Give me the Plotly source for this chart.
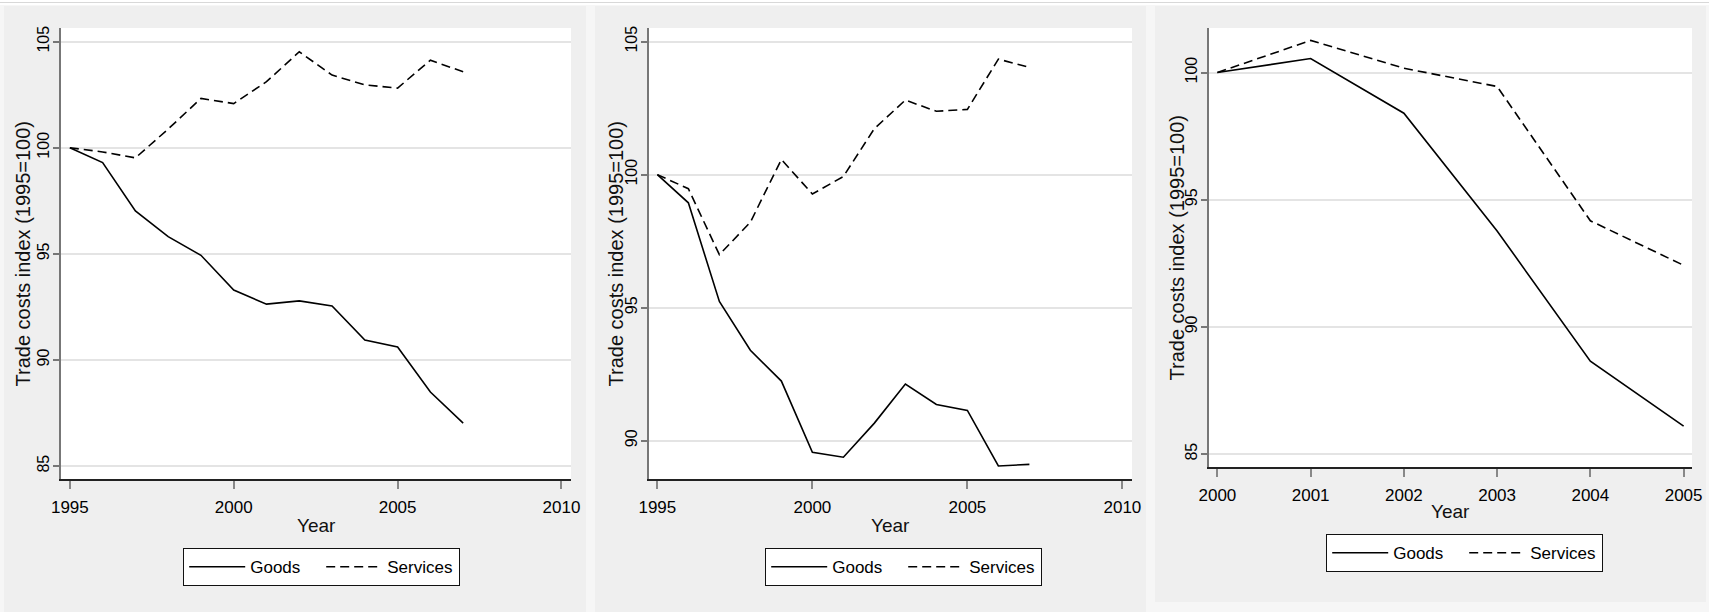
import plotly.graph_objects as go

W, H = 1709, 612

# ---- data -------------------------------------------------------------
years_long = [1995, 1996, 1997, 1998, 1999, 2000, 2001, 2002, 2003, 2004, 2005, 2006, 2007]
goods_a = [100, 99.30, 97.02, 95.81, 94.93, 93.29, 92.63, 92.78, 92.54, 90.94, 90.61, 88.49, 87.02]
services_a = [100, 99.80, 99.52, 100.88, 102.32, 102.08, 103.11, 104.52, 103.42, 102.96, 102.81, 104.12, 103.58]

goods_b = [100, 98.94, 95.23, 93.40, 92.24, 89.56, 89.38, 90.66, 92.13, 91.36, 91.14, 89.05, 89.11]
services_b = [100, 99.47, 96.99, 98.21, 100.57, 99.27, 99.93, 101.73, 102.80, 102.38, 102.45, 104.34, 104.03]

years_short = [2000, 2001, 2002, 2003, 2004, 2005]
goods_c = [100, 100.55, 98.40, 93.77, 88.65, 86.10]
services_c = [100, 101.26, 100.17, 99.45, 94.17, 92.42]

xticks_long = [1995, 2000, 2005, 2010]
xticks_short = [2000, 2001, 2002, 2003, 2004, 2005]
yticks_a = [85, 90, 95, 100, 105]
yticks_b = [90, 95, 100, 105]
yticks_c = [85, 90, 95, 100]

series_names = ["Goods", "Services"]
y_title = "Trade costs index (1995=100)"
x_title = "Year"

SANS = "Liberation Sans, Arial, sans-serif"
PANEL = "#efefef"


def px_x(p):
    return p / W


def px_y(p):
    return 1 - p / H


panels = [
    dict(box=(61, 571, 28, 479), xr=[1994.73, 2010.29], yr=[84.39, 105.64],
         xt=xticks_long, yt=yticks_a, x=years_long, g=goods_a, s=services_a,
         bg=(4, 586, 6, 612), ytx=22, xty=525, leg=(183, 548)),
    dict(box=(649, 1132, 28, 479), xr=[1994.73, 2010.31], yr=[88.56, 105.51],
         xt=xticks_long, yt=yticks_b, x=years_long, g=goods_b, s=services_b,
         bg=(595, 1146, 6, 612), ytx=615, xty=525, leg=(765, 548)),
    dict(box=(1209, 1692, 28, 467), xr=[1999.91, 2005.09], yr=[84.49, 101.75],
         xt=xticks_short, yt=yticks_c, x=years_short, g=goods_c, s=services_c,
         bg=(1155, 1706, 6, 602), ytx=1176, xty=511, leg=(1326, 534)),
]

fig = go.Figure()
layout = dict(
    width=W, height=H,
    margin=dict(l=0, r=0, t=0, b=0, autoexpand=False),
    paper_bgcolor="#f6f6f6",
    plot_bgcolor="white",
    showlegend=True,
    shapes=[],
    annotations=[],
)

for i, p in enumerate(panels, start=1):
    sfx = "" if i == 1 else str(i)
    xa, ya = "x" + sfx, "y" + sfx
    leg = "legend" + sfx
    fig.add_trace(go.Scatter(x=p["x"], y=p["g"], mode="lines", name=series_names[0],
                             line=dict(color="black", width=1.6),
                             xaxis=xa, yaxis=ya, legend=leg))
    fig.add_trace(go.Scatter(x=p["x"], y=p["s"], mode="lines", name=series_names[1],
                             line=dict(color="black", width=1.6, dash="9px,5px"),
                             xaxis=xa, yaxis=ya, legend=leg))

    x0, x1, y0, y1 = p["box"]
    layout["xaxis" + sfx] = dict(
        domain=[px_x(x0), px_x(x1)], range=p["xr"], anchor=ya, automargin=False,
        tickmode="array", tickvals=p["xt"], ticktext=[str(v) for v in p["xt"]],
        showgrid=False, zeroline=False,
        showline=True, linecolor="#222", linewidth=1.6,
        ticks="outside", ticklen=8, tickwidth=1.5, tickcolor="#888",
        tickfont=dict(family=SANS, size=17, color="black"),
        ticklabelstandoff=4,
    )
    layout["yaxis" + sfx] = dict(
        domain=[px_y(y1), px_y(y0)], range=p["yr"], anchor=xa, automargin=False,
        tickmode="array", tickvals=p["yt"], ticktext=[str(v) for v in p["yt"]],
        tickangle=-90,
        showgrid=True, gridcolor="#e4e4e4", gridwidth=2, zeroline=False,
        showline=True, linecolor="#777", linewidth=1.6,
        ticks="outside", ticklen=6, tickwidth=1.5, tickcolor="#777",
        tickfont=dict(family=SANS, size=16, color="black"),
        ticklabelstandoff=-2,
    )

    # grey panel backdrop and white plotting box
    bx0, bx1, by0, by1 = p["bg"]
    layout["shapes"].append(dict(type="rect", xref="paper", yref="paper",
                                 x0=px_x(bx0), x1=px_x(bx1), y0=px_y(by1), y1=px_y(by0),
                                 fillcolor=PANEL, line=dict(width=0), layer="below"))
    layout["shapes"].append(dict(type="rect", xref="paper", yref="paper",
                                 x0=px_x(x0), x1=px_x(x1), y0=px_y(y1), y1=px_y(y0),
                                 fillcolor="white", line=dict(width=0), layer="below"))

    layout["annotations"].append(dict(
        text=y_title, xref="paper", yref="paper",
        x=px_x(p["ytx"]), y=px_y((y0 + y1) / 2), textangle=-90,
        showarrow=False, xanchor="center", yanchor="middle",
        font=dict(family=SANS, size=20, color="#111")))
    layout["annotations"].append(dict(
        text=x_title, xref="paper", yref="paper",
        x=px_x((x0 + x1) / 2), y=px_y(p["xty"]),
        showarrow=False, xanchor="center", yanchor="middle",
        font=dict(family=SANS, size=19, color="#111")))

    lx, ly = p["leg"]
    layout[leg] = dict(
        x=px_x(lx), y=px_y(ly), xref="paper", yref="paper",
        xanchor="left", yanchor="top", orientation="h",
        bgcolor="white", bordercolor="#111", borderwidth=1.2,
        font=dict(family=SANS, size=17, color="black"),
        itemwidth=56, entrywidth=66, tracegroupgap=0,
    )

# white strip with a faint rule along the top edge
layout["shapes"].append(dict(type="rect", xref="paper", yref="paper",
                             x0=0, x1=1, y0=px_y(5), y1=1,
                             fillcolor="white", line=dict(width=0), layer="below"))
layout["shapes"].append(dict(type="line", xref="paper", yref="paper",
                             x0=0, x1=1, y0=px_y(2.5), y1=px_y(2.5),
                             line=dict(color="#d8d8d8", width=1), layer="below"))

fig.update_layout(**layout)
fig.write_html("out.html")
